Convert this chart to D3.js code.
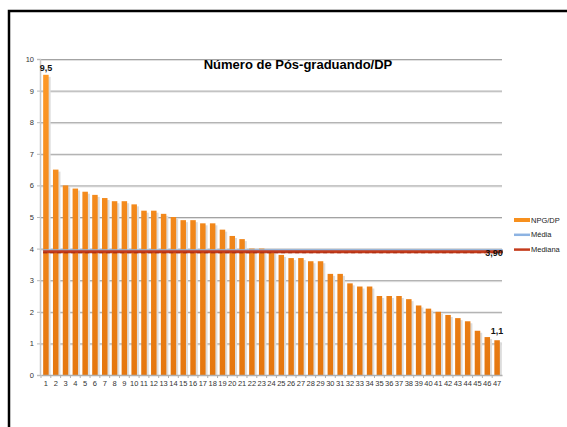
<!DOCTYPE html>
<html>
<head>
<meta charset="utf-8">
<script src="https://cdn.jsdelivr.net/npm/d3@7"></script>
<style>
  body { margin: 0; background: #fff; }
  svg { display: block; font-family: "Liberation Sans", Arial, sans-serif; }
</style>
</head>
<body>
<svg id="chart" width="567" height="427"></svg>
<script>
// data
var categories = d3.range(1, 48).map(String);
var npgValues = [9.5, 6.5, 6.0, 5.9, 5.8, 5.7, 5.6, 5.5, 5.5, 5.4,
                 5.2, 5.2, 5.1, 5.0, 4.9, 4.9, 4.8, 4.8, 4.6, 4.4,
                 4.3, 4.0, 4.0, 3.9, 3.8, 3.7, 3.7, 3.6, 3.6, 3.2,
                 3.2, 2.9, 2.8, 2.8, 2.5, 2.5, 2.5, 2.4, 2.2, 2.1,
                 2.0, 1.9, 1.8, 1.7, 1.4, 1.2, 1.1];
var mediaValue = 3.94;
var medianaValue = 3.90;
var yTicks = [0, 1, 2, 3, 4, 5, 6, 7, 8, 9, 10];
var legendLabels = ["NPG/DP", "Média", "Mediana"];
var legendColors = ["#f7901e", "#8db3e2", "#c43c1c"];

var svg = d3.select("#chart");

// outer frame (only left and top edges are visible in the window)
svg.append("rect")
    .attr("x", 9).attr("y", 11)
    .attr("width", 600).attr("height", 500)
    .attr("fill", "none")
    .attr("stroke", "#000")
    .attr("stroke-width", 2.5);

var x = d3.scaleBand()
    .domain(categories)
    .range([41, 502])
    .paddingInner(0.44)
    .paddingOuter(0.22);

var y = d3.scaleLinear()
    .domain([0, 10])
    .range([375, 59]);

var defs = svg.append("defs");
var grad = defs.append("linearGradient")
    .attr("id", "barGrad")
    .attr("gradientUnits", "userSpaceOnUse")
    .attr("x1", 0).attr("y1", y(10))
    .attr("x2", 0).attr("y2", y(0));
grad.append("stop").attr("offset", "0%").attr("stop-color", "#ff9a28");
grad.append("stop").attr("offset", "100%").attr("stop-color", "#e5770f");

// gridlines
var grid = svg.append("g");
grid.selectAll("line.shade")
    .data(yTicks.slice(1))
  .enter().append("line")
    .attr("class", "shade")
    .attr("x1", 40).attr("x2", 502)
    .attr("y1", function(d) { return y(d) + 1.5; })
    .attr("y2", function(d) { return y(d) + 1.5; })
    .attr("stroke", "#e0e0e0")
    .attr("stroke-width", 1);
grid.selectAll("line.main")
    .data(yTicks.slice(1))
  .enter().append("line")
    .attr("class", "main")
    .attr("x1", 40).attr("x2", 502)
    .attr("y1", function(d) { return y(d) + 0.5; })
    .attr("y2", function(d) { return y(d) + 0.5; })
    .attr("stroke", "#a3a3a3")
    .attr("stroke-width", 1);

// y axis
var yAxis = svg.append("g")
    .attr("transform", "translate(40,0)")
    .call(d3.axisLeft(y).tickValues(yTicks).tickSize(3).tickPadding(3));
yAxis.select(".domain").attr("stroke", "#c8c8c8").attr("stroke-width", 1.5);
yAxis.selectAll(".tick line").attr("stroke", "#bbb");
yAxis.selectAll("text").attr("font-size", 7.5).attr("fill", "#333")
    .attr("font-family", "Liberation Sans, Arial, sans-serif");

// bar shadows then bars
svg.append("g").selectAll("rect")
    .data(npgValues)
  .enter().append("rect")
    .attr("x", function(d, i) { return x(categories[i]) + 2; })
    .attr("y", function(d) { return y(d) + 2; })
    .attr("width", x.bandwidth())
    .attr("height", function(d) { return y(0) - y(d) - 2; })
    .attr("fill", "#dcdcdc");

svg.append("g").selectAll("rect")
    .data(npgValues)
  .enter().append("rect")
    .attr("x", function(d, i) { return x(categories[i]); })
    .attr("y", function(d) { return y(d); })
    .attr("width", x.bandwidth())
    .attr("height", function(d) { return y(0) - y(d); })
    .attr("fill", "url(#barGrad)");

// x axis
var xAxis = svg.append("g")
    .attr("transform", "translate(0,375)")
    .call(d3.axisBottom(x).tickSize(0).tickPadding(6));
xAxis.select(".domain").attr("stroke", "#b0b0b0").attr("stroke-width", 1.5);
xAxis.selectAll("text").attr("font-size", 7.5).attr("fill", "#333")
    .attr("font-family", "Liberation Sans, Arial, sans-serif");
// small ticks at band edges
svg.append("g").selectAll("line")
    .data(categories)
  .enter().append("line")
    .attr("x1", function(d) { return x(d) - x.step() * x.paddingInner() / 2; })
    .attr("x2", function(d) { return x(d) - x.step() * x.paddingInner() / 2; })
    .attr("y1", 375).attr("y2", 378)
    .attr("stroke", "#b0b0b0");

// média and mediana lines
var xFirst = x(categories[0]);
var xLast = x(categories[categories.length - 1]) + x.bandwidth() + 3;
svg.append("line")
    .attr("x1", xFirst).attr("x2", xLast)
    .attr("y1", y(mediaValue)).attr("y2", y(mediaValue))
    .attr("stroke", legendColors[1]).attr("stroke-width", 2.5);
svg.append("line")
    .attr("x1", xFirst).attr("x2", xLast)
    .attr("y1", y(medianaValue)).attr("y2", y(medianaValue))
    .attr("stroke", legendColors[2]).attr("stroke-width", 3);
svg.append("line")
    .attr("x1", xFirst).attr("x2", xLast)
    .attr("y1", y(medianaValue) + 1).attr("y2", y(medianaValue) + 1)
    .attr("stroke", "#a82c10").attr("stroke-width", 1)
    .attr("stroke-dasharray", "4,3");

// data labels
svg.append("text")
    .attr("x", x(categories[0]) + x.bandwidth() / 2)
    .attr("y", y(npgValues[0]) - 4)
    .attr("text-anchor", "middle")
    .attr("font-size", 9).attr("font-weight", "bold").attr("fill", "#111")
    .text(String(npgValues[0]).replace(".", ","));
svg.append("text")
    .attr("x", x(categories[46]) + x.bandwidth() / 2)
    .attr("y", y(npgValues[46]) - 6)
    .attr("text-anchor", "middle")
    .attr("font-size", 9).attr("font-weight", "bold").attr("fill", "#111")
    .text(String(npgValues[46]).replace(".", ","));
svg.append("text")
    .attr("x", xLast)
    .attr("y", y(medianaValue) + 4)
    .attr("text-anchor", "end")
    .attr("font-size", 9).attr("font-weight", "bold").attr("fill", "#111")
    .text(medianaValue.toFixed(2).replace(".", ","));

// title
svg.append("text")
    .attr("x", 298).attr("y", 69)
    .attr("text-anchor", "middle")
    .attr("font-size", 13).attr("font-weight", "bold").attr("fill", "#000")
    .text("Número de Pós-graduando/DP");

// legend
var legend = svg.append("g").selectAll("g")
    .data(legendLabels)
  .enter().append("g")
    .attr("transform", function(d, i) { return "translate(514," + (220 + i * 14.8) + ")"; });
legend.append("line")
    .attr("x1", 0).attr("x2", 16)
    .attr("stroke", function(d, i) { return legendColors[i]; })
    .attr("stroke-width", function(d, i) { return i === 0 ? 4 : 2.5; });
legend.append("text")
    .attr("x", 17).attr("y", 2.5)
    .attr("font-size", 7.5).attr("fill", "#222")
    .text(function(d) { return d; });
</script>
</body>
</html>
